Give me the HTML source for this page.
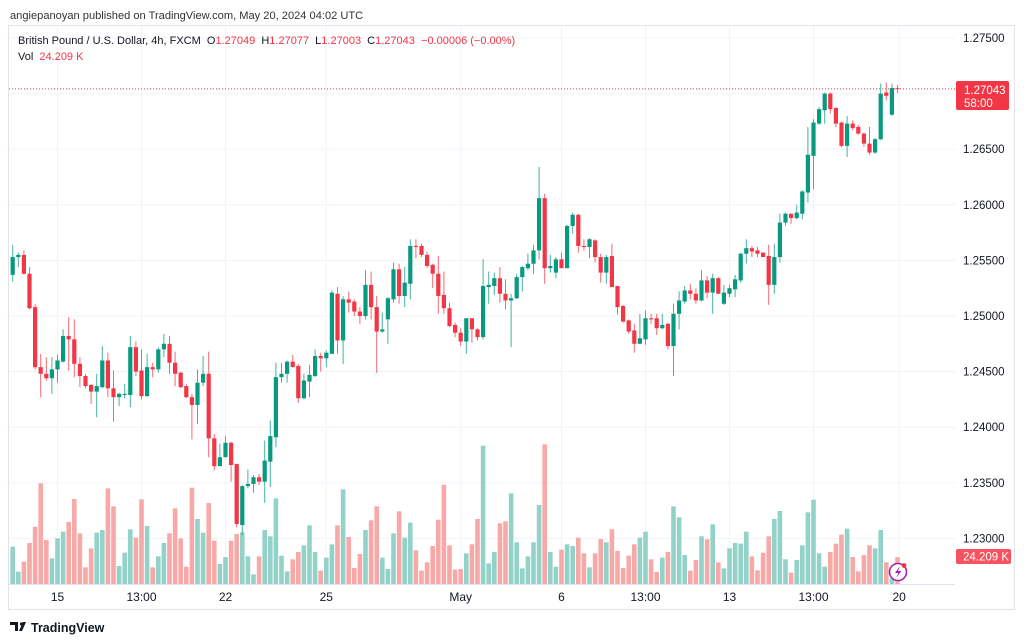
<!DOCTYPE html>
<html><head><meta charset="utf-8">
<style>
html,body{margin:0;padding:0;background:#fff;}
body{width:1024px;height:643px;overflow:hidden;position:relative;font-family:"Liberation Sans",Arial,sans-serif;}
svg{position:absolute;left:0;top:0;}
</style></head>
<body>
<svg id="chart" width="1024" height="643" viewBox="0 0 1024 643">
  <rect x="0" y="0" width="1024" height="643" fill="#fff"/>
  <text x="10" y="19" font-size="11.1" fill="#333">angiepanoyan published on TradingView.com, May 20, 2024 04:02 UTC</text>
  <rect x="8.5" y="25.5" width="1006" height="584" fill="none" stroke="#e0e3eb"/>
  <g id="grid"></g>
  <g id="vol"></g>
  <g id="candles"></g>
  <line x1="9" y1="584.5" x2="955" y2="584.5" stroke="#e0e3eb"/>
  <g id="yaxis"></g>
  <g id="xaxis"></g>
  <text x="18" y="44" font-size="11" fill="#131722" style="white-space:pre">British Pound / U.S. Dollar, 4h, FXCM  O<tspan fill="#f23645">1.27049</tspan>  H<tspan fill="#f23645">1.27077</tspan>  L<tspan fill="#f23645">1.27003</tspan>  C<tspan fill="#f23645">1.27043</tspan>  <tspan fill="#f23645">−0.00006 (−0.00%)</tspan></text>
  <text x="18" y="60" font-size="11" fill="#131722" style="white-space:pre">Vol  <tspan fill="#f23645">24.209 K</tspan></text>
  <g>
    <rect x="956" y="81" width="53" height="29" rx="2" fill="#f23645"/>
    <text x="964" y="94" font-size="11.5" fill="#fff">1.27043</text>
    <text x="964" y="107" font-size="11.5" fill="#fff">58:00</text>
  </g>
  <g>
    <rect x="956" y="549" width="55" height="15" rx="2" fill="#f7525f"/>
    <text x="963" y="560.5" font-size="11.5" fill="#fff">24.209 K</text>
  </g>
  <g>
    <circle cx="898" cy="572" r="8.5" fill="#fff" stroke="#9c27b0" stroke-width="1.6"/>
    <path d="M900 566 L895 573 L898.5 573 L896 578 L901.5 571 L898 571 Z" fill="#9c27b0"/>
    <circle cx="904" cy="565.5" r="2.4" fill="#f23645"/>
  </g>
  <g>
    <path d="M10 622 h8 v9 h-3 v-6 h-5 z M19 631 l4 -9 h3 l-4 9 z" fill="#131722"/>
    <circle cx="21.5" cy="624" r="1.6" fill="#131722"/>
    <text x="31" y="632" font-size="12.5" font-weight="bold" fill="#131722">TradingView</text>
  </g>
</svg>
<script>
const opens=[1.2537,1.2553,1.2555,1.2538,1.2508,1.2454,1.2448,1.2444,1.2452,1.2459,1.2482,1.2479,1.2457,1.2446,1.2438,1.2432,1.2436,1.2460,1.2435,1.2427,1.2429,1.2429,1.2472,1.2451,1.2428,1.2454,1.2452,1.2470,1.2475,1.2458,1.2449,1.2437,1.2427,1.2420,1.2440,1.2448,1.2390,1.2365,1.2373,1.2386,1.2367,1.2312,1.2347,1.2349,1.2355,1.2351,1.2369,1.2391,1.2445,1.2448,1.2459,1.2455,1.2426,1.2441,1.2446,1.2464,1.2462,1.2466,1.2520,1.2478,1.2515,1.2513,1.2504,1.2500,1.2528,1.2508,1.2486,1.2497,1.2515,1.2542,1.2518,1.2529,1.2563,1.2563,1.2555,1.2546,1.2538,1.2519,1.2507,1.2492,1.2485,1.2477,1.2498,1.2488,1.2481,1.2526,1.2527,1.2534,1.2520,1.2514,1.2516,1.2535,1.2543,1.2547,1.2559,1.2606,1.2543,1.2539,1.2551,1.2543,1.2581,1.2591,1.2563,1.2562,1.2568,1.2553,1.2539,1.2554,1.2527,1.2509,1.2496,1.2487,1.2475,1.2479,1.2498,1.2498,1.2489,1.2493,1.2473,1.2502,1.2513,1.2523,1.2520,1.2514,1.2532,1.2521,1.2534,1.2511,1.2520,1.2524,1.2532,1.2556,1.2561,1.2559,1.2557,1.2554,1.2528,1.2553,1.2584,1.2592,1.2588,1.2592,1.2611,1.2644,1.2673,1.2685,1.2700,1.2687,1.2674,1.2653,1.2673,1.2670,1.2664,1.2655,1.2647,1.2659,1.2701,1.2681,1.27049];
const highs=[1.2564,1.2557,1.2559,1.2544,1.2511,1.2466,1.2463,1.2463,1.2465,1.2488,1.2499,1.2497,1.2463,1.2448,1.2439,1.2448,1.2473,1.2467,1.2451,1.2431,1.2439,1.2482,1.2477,1.2470,1.2466,1.2458,1.2472,1.2484,1.2482,1.2468,1.2450,1.2439,1.2430,1.2452,1.2464,1.2468,1.2394,1.2385,1.2392,1.2387,1.2367,1.2348,1.2362,1.2357,1.2358,1.2388,1.2406,1.2458,1.2458,1.2460,1.2465,1.2457,1.2448,1.2456,1.2470,1.2467,1.2469,1.2523,1.2526,1.2518,1.2522,1.2515,1.2508,1.2541,1.2540,1.2518,1.2503,1.2517,1.2548,1.2547,1.2544,1.2569,1.2569,1.2565,1.2558,1.2547,1.2554,1.2540,1.2512,1.2494,1.2489,1.2498,1.2498,1.2489,1.2551,1.2540,1.2539,1.2544,1.2533,1.2520,1.2538,1.2545,1.2556,1.2564,1.2634,1.2610,1.2555,1.2553,1.2557,1.2582,1.2593,1.2592,1.2569,1.2570,1.2569,1.2556,1.2555,1.2565,1.2527,1.2510,1.2497,1.2493,1.2502,1.2505,1.2502,1.2502,1.2502,1.2494,1.2511,1.2522,1.2527,1.2529,1.2525,1.2541,1.2536,1.2538,1.2535,1.2528,1.2528,1.2537,1.2557,1.2569,1.2563,1.2562,1.2557,1.2564,1.2565,1.2592,1.2593,1.2592,1.2600,1.2613,1.2670,1.2677,1.2688,1.2701,1.2701,1.2688,1.2675,1.2680,1.2676,1.2672,1.2665,1.2670,1.2660,1.2709,1.2710,1.2709,1.27077];
const lows=[1.2531,1.2544,1.2537,1.2506,1.2452,1.2427,1.2442,1.2430,1.2440,1.2458,1.2451,1.2445,1.2436,1.2435,1.2421,1.2409,1.2435,1.2427,1.2405,1.2419,1.2426,1.2418,1.2446,1.2425,1.2427,1.2445,1.2449,1.2463,1.2448,1.2437,1.2435,1.2426,1.2389,1.2403,1.2437,1.2373,1.2361,1.2365,1.2373,1.2351,1.2310,1.2303,1.2345,1.2341,1.2348,1.2332,1.2346,1.2382,1.2440,1.2440,1.2454,1.2422,1.2425,1.2427,1.2445,1.2450,1.2454,1.2466,1.2466,1.2457,1.2503,1.2500,1.2493,1.2497,1.2497,1.2449,1.2485,1.2475,1.2512,1.2511,1.2508,1.2515,1.2552,1.2553,1.2543,1.2525,1.2502,1.2502,1.2490,1.2481,1.2473,1.2466,1.2476,1.2478,1.2479,1.2511,1.2519,1.2512,1.2506,1.2472,1.2515,1.2522,1.2541,1.2538,1.2551,1.2529,1.2539,1.2534,1.2543,1.2543,1.2574,1.2557,1.2559,1.2552,1.2548,1.2530,1.2529,1.2526,1.2501,1.2494,1.2484,1.2467,1.2475,1.2474,1.2493,1.2483,1.2488,1.2470,1.2446,1.2488,1.2511,1.2515,1.2511,1.2513,1.2516,1.2502,1.2520,1.2510,1.2517,1.2517,1.2530,1.2547,1.2553,1.2553,1.2553,1.2510,1.2520,1.2548,1.2581,1.2583,1.2587,1.2587,1.2602,1.2614,1.2672,1.2673,1.2682,1.2670,1.2652,1.2643,1.2667,1.2663,1.2652,1.2645,1.2646,1.2658,1.2694,1.2680,1.27003];
const closes=[1.2553,1.2555,1.2538,1.2507,1.2454,1.2448,1.2444,1.2452,1.2460,1.2482,1.2479,1.2457,1.2446,1.2437,1.2432,1.2437,1.2460,1.2435,1.2427,1.2430,1.2430,1.2472,1.2450,1.2428,1.2454,1.2452,1.2470,1.2475,1.2458,1.2448,1.2436,1.2427,1.2420,1.2440,1.2448,1.2390,1.2365,1.2373,1.2386,1.2366,1.2313,1.2347,1.2349,1.2355,1.2351,1.2370,1.2392,1.2445,1.2448,1.2459,1.2454,1.2426,1.2442,1.2447,1.2464,1.2462,1.2467,1.2521,1.2478,1.2515,1.2512,1.2504,1.2500,1.2528,1.2508,1.2486,1.2488,1.2516,1.2542,1.2518,1.2530,1.2563,1.2562,1.2555,1.2545,1.2538,1.2518,1.2507,1.2491,1.2485,1.2477,1.2498,1.2488,1.2481,1.2527,1.2528,1.2534,1.2520,1.2514,1.2516,1.2535,1.2544,1.2547,1.2559,1.2606,1.2543,1.2545,1.2551,1.2543,1.2581,1.2591,1.2563,1.2562,1.2569,1.2553,1.2539,1.2553,1.2526,1.2508,1.2495,1.2486,1.2475,1.2480,1.2498,1.2497,1.2489,1.2492,1.2473,1.2502,1.2514,1.2523,1.2520,1.2514,1.2532,1.2521,1.2534,1.2520,1.2521,1.2525,1.2533,1.2556,1.2561,1.2558,1.2556,1.2553,1.2528,1.2553,1.2584,1.2592,1.2588,1.2593,1.2612,1.2645,1.2674,1.2686,1.2700,1.2686,1.2673,1.2653,1.2673,1.2669,1.2664,1.2655,1.2647,1.2659,1.2700,1.2698,1.2705,1.27043];
const volumes=[33.6,11.1,20.1,36.9,51.6,90.6,39.6,23.1,41.1,47.1,55.8,76.5,45.6,15,32.1,46.2,48.6,86.1,69.9,16.2,28.2,49.2,41.7,76.2,52.2,15,24.9,36.9,45.6,68.1,41.1,15.6,86.7,58.5,46.2,72.9,39,18,24.3,39,45,46.5,24.9,8.7,24.9,48.6,42.9,77.1,25.5,11.4,22.2,28.8,34.8,52.8,28.8,12,23.7,35.7,52.8,85.2,42.3,14.4,27,48.6,57.3,69.9,23.7,13.5,45.6,65.4,41.7,55.2,30.3,12,19.5,34.2,57.9,89.4,34.8,12.9,13.5,27.6,35.7,58.5,124.5,18.6,28.8,54.6,56.4,81.6,37.5,14.1,24.9,37.5,71.1,125.7,28.8,15.6,30.9,35.7,34.2,41.7,27.6,15,27.6,40.5,37.5,49.2,29.7,14.4,25.5,35.7,41.7,47.1,22.2,10.8,23.7,28.8,69.9,60,26.1,12,21.6,42.9,40.2,53.7,19.5,14.1,32.1,36.9,36.3,47.1,24.9,12.3,28.2,42.9,58.5,65.7,22.2,10.2,21.6,34.8,64.5,75.9,27.6,15.6,28.8,36.3,44.4,49.8,24.3,11.4,26.1,34.8,32.1,48.6,19.5,5,24.209];
const priceTicks=[1.275,1.27,1.265,1.26,1.255,1.25,1.245,1.24,1.235,1.23];
const timeLabels=["15","13:00","22","25","May","6","13:00","13","13:00","20"];
const timeLabelIdx=[8,23,38,56,80,98,113,128,143,158.3];

const NS="http://www.w3.org/2000/svg";
function yP(p){return 38+(1.275-p)/0.005*55.6;}
function xI(i){return 12.7+i*5.6;}
function yV(v){return 584-v/0.9;}
function mk(tag,attrs,parent){const e=document.createElementNS(NS,tag);for(const k in attrs)e.setAttribute(k,attrs[k]);parent.appendChild(e);return e;}
const grid=document.getElementById('grid'),vg=document.getElementById('vol'),cg=document.getElementById('candles'),ya=document.getElementById('yaxis'),xa=document.getElementById('xaxis');
priceTicks.forEach(p=>{
  const gl=mk('line',{x1:9,x2:955,y1:yP(p),y2:yP(p),stroke:'#f0f3fa'},grid);
  
  
  const t=mk('text',{x:963,y:yP(p)+4,'font-size':11.5,fill:'#131722'},ya);
  t.textContent=p.toFixed(5);
  
  
});
timeLabels.forEach((lab,k)=>{
  const x=xI(timeLabelIdx[k]);
  const gl=mk('line',{x1:x,x2:x,y1:26,y2:584,stroke:'#f0f3fa'},grid);
  
  
  const t=mk('text',{x:x,y:601,'font-size':12,fill:'#131722','text-anchor':'middle'},xa);
  t.textContent=lab;
  
  
});
const lp=mk('line',{x1:9,x2:955,y1:yP(closes[closes.length-1]),y2:yP(closes[closes.length-1]),stroke:'#f23645','stroke-dasharray':'1 2','stroke-width':1},grid);


for(let i=0;i<opens.length;i++){
  const up=closes[i]>=opens[i];
  const x=xI(i);
  const vb=mk('rect',{x:x-2.3,y:yV(volumes[i]),width:4.6,height:584-yV(volumes[i]),fill:up?'#92d2c8':'#f7a9a7'},vg);
  
  
  const col=up?'#089981':'#f23645';
  const w=mk('line',{x1:x,x2:x,y1:yP(highs[i]),y2:yP(lows[i]),stroke:col,'stroke-width':1,opacity:0.75},cg);
  
  
  const top=yP(Math.max(opens[i],closes[i])),bot=yP(Math.min(opens[i],closes[i]));
  const b=mk('rect',{x:x-2.1,y:top,width:4.2,height:Math.max(1,bot-top),fill:col},cg);
  
  
}
</script>
</body></html>
